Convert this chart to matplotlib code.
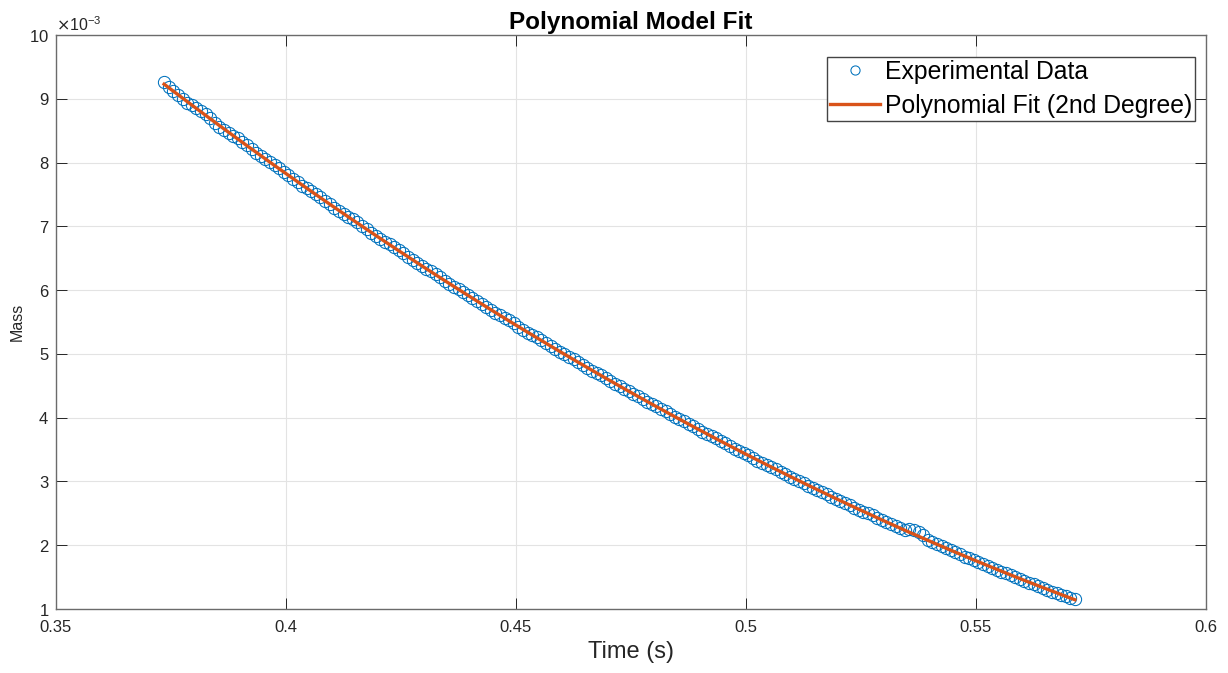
import numpy as np
import matplotlib
matplotlib.use("Agg")
import matplotlib.pyplot as plt
from matplotlib.ticker import ScalarFormatter, FuncFormatter

plt.rcParams['font.family'] = ['Liberation Sans', 'DejaVu Sans']

# ---- data ----
time_s = [
    0.3735, 0.3745, 0.3755, 0.3765, 0.3775, 0.3785, 0.3795, 0.3805, 0.3815, 0.3825,
    0.3835, 0.3845, 0.3855, 0.3865, 0.3875, 0.3885, 0.3895, 0.3905, 0.3915, 0.3925,
    0.3935, 0.3945, 0.3955, 0.3965, 0.3975, 0.3985, 0.3995, 0.4005, 0.4015, 0.4025,
    0.4035, 0.4045, 0.4055, 0.4065, 0.4075, 0.4085, 0.4095, 0.4105, 0.4115, 0.4125,
    0.4135, 0.4145, 0.4155, 0.4165, 0.4175, 0.4185, 0.4195, 0.4205, 0.4215, 0.4225,
    0.4235, 0.4245, 0.4255, 0.4265, 0.4275, 0.4285, 0.4295, 0.4305, 0.4315, 0.4325,
    0.4335, 0.4345, 0.4355, 0.4365, 0.4375, 0.4385, 0.4395, 0.4405, 0.4415, 0.4425,
    0.4435, 0.4445, 0.4455, 0.4465, 0.4475, 0.4485, 0.4495, 0.4505, 0.4515, 0.4525,
    0.4535, 0.4545, 0.4555, 0.4565, 0.4575, 0.4585, 0.4595, 0.4605, 0.4615, 0.4625,
    0.4635, 0.4645, 0.4655, 0.4665, 0.4675, 0.4685, 0.4695, 0.4705, 0.4715, 0.4725,
    0.4735, 0.4745, 0.4755, 0.4765, 0.4775, 0.4785, 0.4795, 0.4805, 0.4815, 0.4825,
    0.4835, 0.4845, 0.4855, 0.4865, 0.4875, 0.4885, 0.4895, 0.4905, 0.4915, 0.4925,
    0.4935, 0.4945, 0.4955, 0.4965, 0.4975, 0.4985, 0.4995, 0.5005, 0.5015, 0.5025,
    0.5035, 0.5045, 0.5055, 0.5065, 0.5075, 0.5085, 0.5095, 0.5105, 0.5115, 0.5125,
    0.5135, 0.5145, 0.5155, 0.5165, 0.5175, 0.5185, 0.5195, 0.5205, 0.5215, 0.5225,
    0.5235, 0.5245, 0.5255, 0.5265, 0.5275, 0.5285, 0.5295, 0.5305, 0.5315, 0.5325,
    0.5335, 0.5345, 0.5355, 0.5365, 0.5375, 0.5385, 0.5395, 0.5405, 0.5415, 0.5425,
    0.5435, 0.5445, 0.5455, 0.5465, 0.5475, 0.5485, 0.5495, 0.5505, 0.5515, 0.5525,
    0.5535, 0.5545, 0.5555, 0.5565, 0.5575, 0.5585, 0.5595, 0.5605, 0.5615, 0.5625,
    0.5635, 0.5645, 0.5655, 0.5665, 0.5675, 0.5685, 0.5695, 0.5705, 0.5715,
]

# mass in units of 1e-3
mass_e3 = [
    9.266, 9.190, 9.128, 9.060, 8.995, 8.940, 8.895, 8.850, 8.805, 8.755,
    8.695, 8.628, 8.565, 8.510, 8.462, 8.420, 8.378, 8.330, 8.272, 8.210,
    8.150, 8.095, 8.050, 8.010, 7.965, 7.915, 7.858, 7.798, 7.742, 7.690,
    7.640, 7.595, 7.552, 7.508, 7.460, 7.405, 7.345, 7.290, 7.240, 7.195,
    7.152, 7.108, 7.062, 7.012, 6.958, 6.900, 6.848, 6.802, 6.760, 6.718,
    6.672, 6.625, 6.575, 6.520, 6.468, 6.420, 6.378, 6.338, 6.295, 6.248,
    6.198, 6.145, 6.095, 6.050, 6.010, 5.972, 5.930, 5.882, 5.830, 5.778,
    5.728, 5.685, 5.645, 5.608, 5.568, 5.525, 5.478, 5.428, 5.378, 5.335,
    5.298, 5.260, 5.218, 5.172, 5.122, 5.075, 5.033, 4.995, 4.958, 4.918,
    4.872, 4.822, 4.775, 4.738, 4.705, 4.668, 4.625, 4.575, 4.528, 4.490,
    4.455, 4.418, 4.378, 4.332, 4.288, 4.248, 4.212, 4.178, 4.140, 4.098,
    4.050, 4.008, 3.972, 3.940, 3.905, 3.865, 3.820, 3.778, 3.740, 3.708,
    3.675, 3.638, 3.595, 3.550, 3.512, 3.480, 3.448, 3.410, 3.368, 3.328,
    3.292, 3.262, 3.230, 3.192, 3.150, 3.110, 3.075, 3.045, 3.012, 2.972,
    2.932, 2.900, 2.872, 2.840, 2.802, 2.762, 2.725, 2.695, 2.665, 2.630,
    2.590, 2.555, 2.528, 2.500, 2.468, 2.430, 2.392, 2.358, 2.332, 2.302,
    2.268, 2.232, 2.255, 2.232, 2.200, 2.155, 2.088, 2.048, 2.015, 1.985,
    1.952, 1.922, 1.890, 1.855, 1.822, 1.795, 1.770, 1.742, 1.710, 1.675,
    1.640, 1.610, 1.585, 1.562, 1.535, 1.505, 1.472, 1.440, 1.412, 1.388,
    1.362, 1.335, 1.305, 1.272, 1.245, 1.222, 1.198, 1.172, 1.150,
]

x_ticks = [0.35, 0.4, 0.45, 0.5, 0.55, 0.6]
y_ticks_e3 = [1, 2, 3, 4, 5, 6, 7, 8, 9, 10]

t = np.array(time_s)
m = np.array(mass_e3) * 1e-3

coef = np.polyfit(t, m, 2)
m_fit = np.polyval(coef, t)

# ---- figure ----
W, H = 1228, 673
fig = plt.figure(figsize=(W / 100, H / 100), dpi=100)
ax = fig.add_axes([56 / W, 1 - 609 / H, (1206 - 56) / W, (609 - 35) / H])

blue = '#0072BD'
orange = '#D95319'
axcol = '#262626'

ax.plot(t, m, linestyle='none', marker='o', markersize=8.8, markerfacecolor='none',
        markeredgecolor=blue, markeredgewidth=0.75, label='Experimental Data', zorder=2)
ax.plot(t, m_fit, color=orange, linewidth=2.4, label='Polynomial Fit (2nd Degree)', zorder=3)

ax.set_xlim(x_ticks[0], x_ticks[-1])
ax.set_ylim(y_ticks_e3[0] * 1e-3, y_ticks_e3[-1] * 1e-3)
ax.set_xticks(x_ticks)
ax.set_yticks([v * 1e-3 for v in y_ticks_e3])
ax.xaxis.set_major_formatter(FuncFormatter(lambda v, p: '%g' % v))
fmt = ScalarFormatter(useMathText=True)
fmt.set_powerlimits((-3, -3))
ax.yaxis.set_major_formatter(fmt)
ax.yaxis.get_offset_text().set_fontsize(11.5)
ax.yaxis.get_offset_text().set_color(axcol)

ax.grid(True, color='#e3e3e3', linewidth=0.8)
ax.set_axisbelow(True)
ax.tick_params(direction='in', length=8, width=0.7, top=True, right=True,
               labelsize=12, colors=axcol)
ax.tick_params(axis='x', pad=8)
ax.tick_params(axis='y', pad=5)
for s in ax.spines.values():
    s.set_color('#6b6b6b')
    s.set_linewidth(1.0)

ax.set_xlabel('Time (s)', fontsize=17, color=axcol, labelpad=4)
ax.set_ylabel('Mass', fontsize=11.5, color=axcol, labelpad=3)
ax.set_title('Polynomial Model Fit', fontsize=17.5, fontweight='bold', color='black', pad=4)

leg = ax.legend(loc='upper right', bbox_to_anchor=((1195 - 56) / 1150, (609 - 57) / 574),
                fontsize=17.8, frameon=True, fancybox=False, framealpha=1,
                edgecolor='#444444', borderpad=0.12, handlelength=2.0, markerscale=0.75,
                handletextpad=0.2, labelspacing=0.4, borderaxespad=0)
leg.get_frame().set_linewidth(1.0)

fig.savefig('out.png', dpi=100)
